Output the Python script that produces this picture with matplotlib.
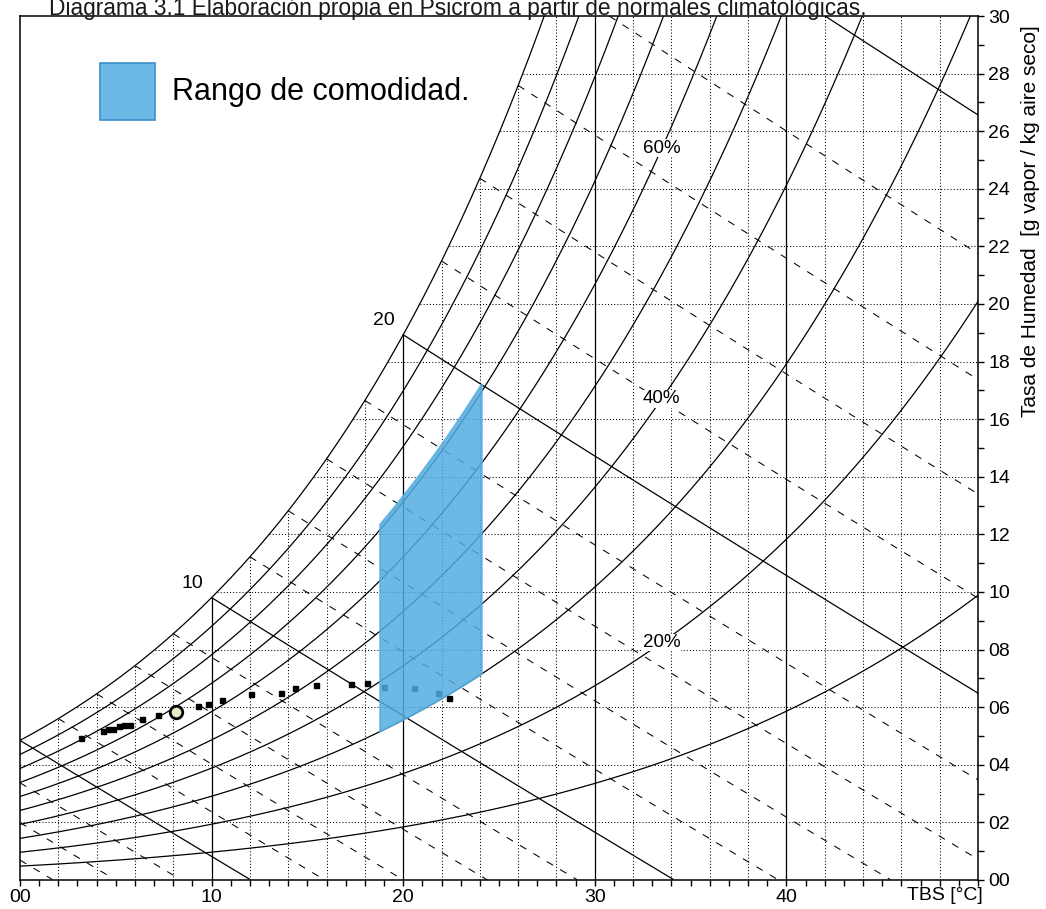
import numpy as np
import matplotlib
matplotlib.use("Agg")
import matplotlib.pyplot as plt
from matplotlib.patches import Rectangle, Polygon

plt.rcParams['font.family'] = ['Liberation Sans', 'DejaVu Sans']

# ---------------- data ----------------
rh_levels = [10, 20, 30, 40, 50, 60, 70, 80, 90, 100]          # % relative humidity curves
rh_labelled = [20, 40, 60]                                      # curves carrying a text label
rh_label_temp = 33.5                                            # °C where the labels sit
wet_bulb_temps = list(range(-6, 32, 2))                         # °C wet-bulb lines
wet_bulb_labelled = [10, 20]

# monthly / hourly climate normals (dry bulb °C, humidity ratio g/kg)
climate_temp = [3.17, 4.34, 4.60, 4.86, 5.16, 5.44, 5.74, 6.38, 7.18, 9.27,
                9.80, 10.56, 12.07, 13.64, 14.37, 15.47, 17.30, 18.13, 18.99,
                20.55, 21.83, 22.38]
climate_w = [4.92, 5.18, 5.23, 5.26, 5.34, 5.37, 5.39, 5.58, 5.72, 6.05,
             6.10, 6.24, 6.45, 6.50, 6.68, 6.76, 6.79, 6.84, 6.70,
             6.68, 6.50, 6.32]
mean_temp = [8.14]
mean_w = [5.84]

# comfort zone limits
comfort_temp = [18.8, 24.1]
comfort_rh = [30, 71]

P_ATM = 79.0  # kPa, station pressure


def p_sat(t):
    return 0.61094 * np.exp(17.625 * t / (t + 243.04))


def w_rh(t, rh):
    pw = rh * p_sat(t)
    return 622.0 * pw / (P_ATM - pw)


def t_sat(w):
    pw = w * P_ATM / (622.0 + w)
    a = np.log(pw / 0.61094)
    return 243.04 * a / (17.625 - a)


def w_wetbulb(t, twb):
    ws = w_rh(twb, 1.0) / 1000.0
    return 1000.0 * ((2501 - 2.326 * twb) * ws - 1.006 * (t - twb)) / (2501 + 1.86 * t - 4.186 * twb)


W_PX, H_PX = 1046, 909
fig = plt.figure(figsize=(W_PX / 100, H_PX / 100), dpi=100)
ax = fig.add_axes([20 / W_PX, 1 - 880 / H_PX, 958 / W_PX, 864 / H_PX])
ax.set_xlim(0, 50)
ax.set_ylim(0, 30)

LW = 0.9
dot = (0, (1, 2))

# grid clipped under the saturation curve
for t in range(2, 50, 2):
    top = min(w_rh(t, 1.0), 30)
    if t % 10 == 0:
        ax.plot([t, t], [0, top], color='black', lw=LW, zorder=2)
    else:
        ax.plot([t, t], [0, top], color='black', lw=0.75, ls=dot, zorder=1)
for w in range(2, 30, 2):
    t0 = max(t_sat(w), 0)
    ax.plot([t0, 50], [w, w], color='black', lw=0.75, ls=dot, zorder=1)

# relative humidity curves
tt = np.linspace(0, 50, 600)
for rh in rh_levels:
    ax.plot(tt, w_rh(tt, rh / 100.0), color='black', lw=LW, zorder=2)

for rh in rh_labelled:
    ax.text(rh_label_temp, w_rh(rh_label_temp, rh / 100.0), f"{rh}%",
            ha='center', va='center', fontsize=13.5, zorder=4,
            bbox=dict(facecolor='white', edgecolor='none', pad=0.3))

# wet-bulb lines
for twb in wet_bulb_temps:
    t0 = max(twb, 0)
    t = np.linspace(t0, 50, 300)
    w = w_wetbulb(t, twb)
    keep = w >= 0
    if twb % 10 == 0:
        ax.plot(t[keep], w[keep], color='black', lw=LW, zorder=2)
    else:
        ax.plot(t[keep], w[keep], color='black', lw=0.75, ls=(0, (7, 8)), zorder=2)

for twb in wet_bulb_labelled:
    ax.annotate(str(twb), (twb, w_rh(twb, 1.0)), xytext=(-14, 10),
                textcoords='offset points', ha='center', va='center', fontsize=14)

# climate points
ax.plot(climate_temp, climate_w, ls='none', marker='s', ms=3.6,
        color='black', zorder=3)
ax.plot(mean_temp, mean_w, ls='none', marker='o', ms=9, mfc='#ecebc8',
        mec='black', mew=2, zorder=3)

# comfort zone
tb = np.linspace(comfort_temp[0], comfort_temp[1], 60)
bottom = np.column_stack([tb, w_rh(tb, comfort_rh[0] / 100.0)])
top = np.column_stack([tb[::-1], w_rh(tb[::-1], comfort_rh[1] / 100.0)])
verts = np.vstack([bottom, top])
ax.add_patch(Polygon(verts, closed=True, facecolor='#52ADE2', alpha=0.85,
                     edgecolor='#5AAEE0', lw=1.5, zorder=5))

# axes styling
for s in ax.spines.values():
    s.set_linewidth(1.1)
    s.set_color('black')
ax.yaxis.tick_right()
ax.set_yticks(range(0, 31, 2))
ax.set_yticklabels([f"{v:02d}" for v in range(0, 31, 2)])
ax.set_yticks(range(1, 30, 2), minor=True)
ax.set_xticks(range(0, 51, 10))
ax.set_xticklabels(["00", "10", "20", "30", "40", ""])
ax.set_xticks(range(0, 51, 1), minor=True)
ax.tick_params(which='both', direction='out', length=4.5, width=1,
               labelsize=14, pad=3, colors='black')
ax.tick_params(axis='x', which='both', pad=2)

fig.text(983 / W_PX, 1 - 896 / H_PX, "TBS [°C]", ha='right', va='center', fontsize=14)
fig.text(1030 / W_PX, 1 - 221 / H_PX, "Tasa de Humedad  [g vapor / kg aire seco]",
         rotation=90, ha='center', va='center', fontsize=15)

# legend
fig.patches.append(Rectangle((100 / W_PX, 1 - 120 / H_PX), 55 / W_PX, 57 / H_PX,
                             transform=fig.transFigure, facecolor='#6CB8E6',
                             edgecolor='#3D8FCC', lw=1.2))
fig.text(172 / W_PX, 1 - 92 / H_PX, "Rango de comodidad.", ha='left', va='center',
         fontsize=22)

# caption
fig.text(458 / W_PX, 1 - 15 / H_PX,
         "Diagrama 3.1 Elaboración propia en Psicrom a partir de normales climatológicas.",
         ha='center', va='baseline', fontsize=16.4, color='#1a1a1a')

fig.savefig("out.png", dpi=100)
